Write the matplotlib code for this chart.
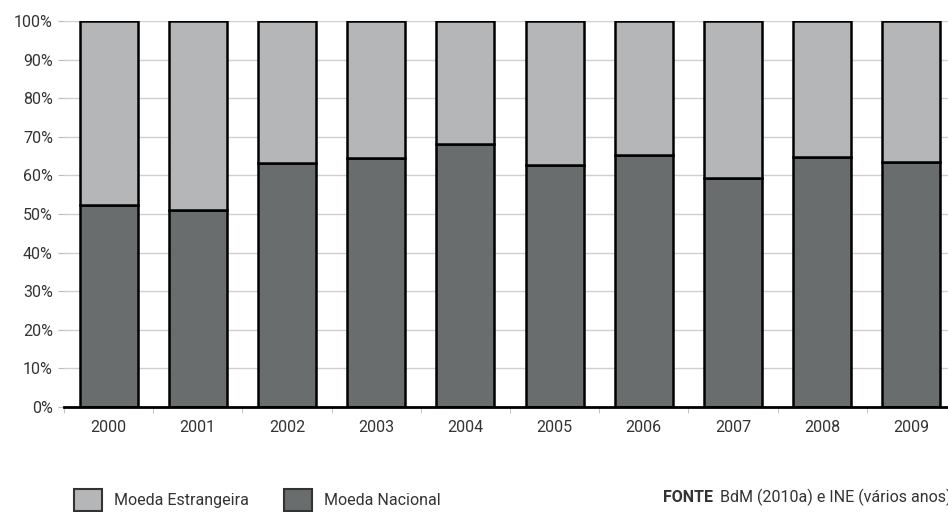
import matplotlib.pyplot as plt
import matplotlib.patches as mpatches
import numpy as np

anos = ['2000', '2001', '2002', '2003', '2004', '2005', '2006', '2007', '2008', '2009']
nacional = [52.3, 51.0, 63.1, 64.5, 68.1, 62.7, 65.2, 59.3, 64.8, 63.4]
estrangeira = [100 - v for v in nacional]

cor_nac = '#696d6d'
cor_est = '#b5b6b8'
cor_txt = '#333333'

plt.rcParams['font.family'] = ['Roboto', 'DejaVu Sans']

fig = plt.figure(figsize=(9.48, 5.12), dpi=100)
ax = fig.add_axes([64 / 948, 105 / 512, 892 / 948, 386 / 512])

x = np.arange(len(anos))
ax.bar(x, nacional, width=0.65, color=cor_nac, edgecolor='black', linewidth=1.8, zorder=3)
ax.bar(x, estrangeira, width=0.65, bottom=nacional, color=cor_est, edgecolor='black', linewidth=1.8, zorder=3)

ax.set_xlim(-0.5, len(anos) - 0.5)
ax.set_ylim(0, 100)
ax.set_yticks(np.arange(0, 101, 10))
ax.set_yticklabels([f'{v}%' for v in range(0, 101, 10)], fontsize=11.5, color=cor_txt)
ax.set_xticks(x)
ax.set_xticklabels(anos, fontsize=11.5, color=cor_txt)
ax.set_xticks(np.arange(-0.5, len(anos), 1), minor=True)
ax.tick_params(axis='x', which='major', length=0, pad=9)
ax.tick_params(axis='x', which='minor', length=4, color='#bbbbbb')
ax.tick_params(axis='y', length=4, color='#bbbbbb', pad=4)

ax.grid(axis='y', color='#d0d0d0', linewidth=1, zorder=0)
for s in ['top', 'right', 'left']:
    ax.spines[s].set_visible(False)
ax.spines['bottom'].set_color('black')
ax.spines['bottom'].set_linewidth(2)
ax.spines['bottom'].set_zorder(4)

# legenda
h1 = mpatches.Patch(facecolor=cor_est, edgecolor='#333333', linewidth=1.5, label='Moeda Estrangeira')
h2 = mpatches.Patch(facecolor=cor_nac, edgecolor='#333333', linewidth=1.5, label='Moeda Nacional')
fig.legend(handles=[h1, h2], loc='center left', bbox_to_anchor=(74 / 948, 1 - 500 / 512),
           ncol=2, frameon=False, fontsize=11.5, handlelength=1.75, handleheight=1.7,
           columnspacing=2.2, handletextpad=0.75, labelcolor=cor_txt, borderpad=0,
           borderaxespad=0)

t = fig.text(663 / 948, 1 - 497 / 512, 'FONTE', fontsize=11.5, fontweight='bold', color=cor_txt, va='center')
ax.annotate('BdM (2010a) e INE (vários anos)', xy=(1, 0.5), xycoords=t, xytext=(5, 0),
            textcoords='offset points', fontsize=11.5, color=cor_txt, va='center', annotation_clip=False)

fig.savefig('out.png', dpi=100)
